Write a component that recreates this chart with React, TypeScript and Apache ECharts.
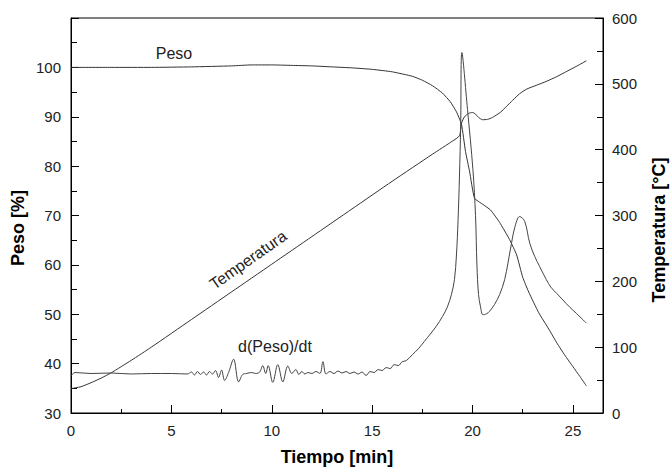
import React, { useEffect, useRef } from "react";
import * as echarts from "echarts";

// Peso [%] vs time [min]
const pesoCurve: [number, number][] = [
  [0, 100], [2, 100], [4, 100], [6, 100.1], [8, 100.3], [9, 100.5], [10, 100.5], [11, 100.4],
  [12, 100.3], [13, 100.1], [14, 99.9], [15, 99.6], [16, 99.1], [17, 98.2], [17.5, 97.4],
  [18, 96.3], [18.5, 94.8], [18.9, 93], [19.2, 91], [19.45, 88.5], [19.65, 83], [19.85, 79],
  [20.1, 73.5], [20.5, 72.3], [20.9, 71.1], [21.35, 68.6], [21.85, 65.1], [22.2, 62],
  [22.5, 57.5], [22.8, 54.5], [23.3, 50.3], [23.8, 47], [24.2, 44.2], [24.6, 41.7],
  [25.0, 39.4], [25.35, 37.4], [25.67, 35.5],
];

// Temperatura [°C] vs time [min]
const tempCurve: [number, number][] = [
  [0, 37], [0.5, 40], [1, 46], [1.5, 53], [2, 61], [3, 80], [4, 100], [6, 142], [8, 184],
  [10, 226], [12, 268], [14, 310], [16, 352], [18, 393], [19, 413], [19.35, 421], [19.45, 440],
  [19.6, 450], [19.8, 455], [20.0, 456.5], [20.15, 454], [20.3, 449], [20.5, 445.5],
  [20.75, 446], [21.0, 449], [21.4, 457], [21.7, 466], [22.0, 475], [22.35, 485], [22.7, 492],
  [23.2, 498], [23.7, 504], [24.2, 511], [24.7, 519], [25.2, 527], [25.67, 535],
];

// d(Peso)/dt (plotted on the Peso scale)
const dtgCurve: [number, number][] = [
  [0, 37.5], [0.2, 38.2], [1, 38.0], [2, 38.1], [3, 37.9], [4, 38.0], [5, 38.0], [5.8, 37.9],
  [6.0, 38.3], [6.15, 37.7], [6.3, 38.4], [6.45, 37.8], [6.6, 38.3], [6.75, 37.7], [6.9, 38.4],
  [7.05, 37.9], [7.2, 38.6], [7.35, 37.2], [7.5, 38.7], [7.65, 36.6], [7.85, 38.2], [8.1, 40.9],
  [8.35, 36.3], [8.55, 37.8], [8.75, 38.0], [9.0, 38.2], [9.2, 38.0], [9.4, 38.3], [9.55, 39.6],
  [9.7, 38.0], [9.82, 39.6], [10.05, 36.2], [10.3, 39.8], [10.55, 36.3], [10.8, 39.5],
  [11.0, 38.0], [11.2, 38.8], [11.35, 37.8], [11.5, 38.4], [11.65, 37.9], [11.8, 38.2],
  [12.0, 38.0], [12.2, 38.4], [12.4, 38.0], [12.55, 40.4], [12.7, 37.9], [12.9, 38.4],
  [13.1, 38.0], [13.3, 38.5], [13.5, 38.1], [13.7, 38.4], [13.9, 38.0], [14.1, 38.3],
  [14.3, 37.9], [14.5, 38.3], [14.7, 37.6], [14.9, 38.4], [15.1, 38.2], [15.3, 38.8],
  [15.5, 38.6], [15.7, 39.2], [15.9, 39.0], [16.1, 39.8], [16.3, 39.6], [16.5, 40.4],
  [16.7, 40.6], [17, 41.8], [17.3, 43.0], [17.6, 44.5], [17.9, 46.0], [18.2, 47.6],
  [18.5, 49.5], [18.75, 51.5], [18.95, 54], [19.1, 57], [19.2, 62], [19.28, 69], [19.35, 78],
  [19.41, 88], [19.47, 103], [19.75, 91.5], [20.02, 79.3], [20.15, 70], [20.22, 60], [20.3, 54],
  [20.4, 51.5], [20.52, 49.9], [20.7, 50.1], [20.85, 50.6], [21.1, 52], [21.35, 54], [21.6, 57],
  [21.9, 63.4], [22.1, 67.5], [22.35, 69.8], [22.6, 68.8], [22.85, 64.4], [23.1, 61.7],
  [23.34, 59.7], [23.68, 57], [23.9, 55.5], [24.2, 54.2], [24.5, 52.9], [24.85, 51.4],
  [25.17, 50.2], [25.45, 49.1], [25.67, 48.2],
];

const FONT = "'Liberation Sans', Arial, sans-serif";
const LINE = "#333";

export default function App() {
  const ref = useRef<HTMLDivElement>(null);
  useEffect(() => {
    if (!ref.current) return;
    const chart = echarts.init(ref.current, undefined, { renderer: "svg" });
    const axisLine = { show: true, onZero: false, lineStyle: { color: "#000", width: 1 } };
    const label = { color: "#222", fontSize: 15, fontFamily: FONT };
    chart.setOption({
      animation: false,
      backgroundColor: "#fff",
      grid: { left: 71, right: 67, top: 18, bottom: 55, show: true, borderColor: "#000", borderWidth: 1, backgroundColor: "transparent" },
      xAxis: [
        {
          type: "value", min: 0, max: 26.5, interval: 5, position: "bottom",
          axisLine,
          axisTick: { inside: true, length: 8, lineStyle: { color: "#000" } },
          axisLabel: { ...label, margin: 10, showMaxLabel: false },
          splitLine: { show: false },
        },
        {
          type: "value", min: 0, max: 26.5, interval: 2.5, position: "bottom",
          axisLine: { show: false },
          axisTick: { inside: true, length: 4, lineStyle: { color: "#000" } },
          axisLabel: { show: false },
          splitLine: { show: false },
        },
      ],
      yAxis: [
        {
          type: "value", min: 30, max: 110, interval: 10, position: "left",
          axisLine,
          axisTick: { inside: true, length: 8, lineStyle: { color: "#000" } },
          minorTick: { show: true, splitNumber: 2, length: 6, lineStyle: { color: "#000" } },
          axisLabel: { ...label, margin: 10, showMaxLabel: false },
          splitLine: { show: false },
        },
        {
          type: "value", min: 0, max: 600, interval: 100, position: "right",
          axisLine,
          axisTick: { inside: true, length: 8, lineStyle: { color: "#000" } },
          minorTick: { show: true, splitNumber: 2, length: 6, lineStyle: { color: "#000" } },
          axisLabel: { ...label, margin: 9 },
          splitLine: { show: false },
        },
      ],
      series: [
        { name: "Peso", type: "line", xAxisIndex: 0, yAxisIndex: 0, data: pesoCurve, showSymbol: false, symbol: "none", smooth: 0.15, lineStyle: { color: LINE, width: 1 } },
        { name: "Temperatura", type: "line", xAxisIndex: 0, yAxisIndex: 1, data: tempCurve, showSymbol: false, symbol: "none", smooth: 0.2, lineStyle: { color: LINE, width: 1 } },
        { name: "d(Peso)/dt", type: "line", xAxisIndex: 0, yAxisIndex: 0, data: dtgCurve, showSymbol: false, symbol: "none", smooth: 0.35, lineStyle: { color: "#444", width: 1 } },
      ],
      graphic: [
        { type: "text", x: 174, y: 53, style: { text: "Peso", fill: "#222", font: `16px ${FONT}`, align: "center", verticalAlign: "middle" } },
        { type: "text", x: 275, y: 346, style: { text: "d(Peso)/dt", fill: "#222", font: `16px ${FONT}`, align: "center", verticalAlign: "middle" } },
        { type: "text", x: 248, y: 260, rotation: (35 * Math.PI) / 180, style: { text: "Temperatura", fill: "#222", font: `16px ${FONT}`, align: "center", verticalAlign: "middle" } },
        { type: "text", x: 18, y: 228, rotation: Math.PI / 2, style: { text: "Peso [%]", fill: "#000", font: `bold 18px ${FONT}`, align: "center", verticalAlign: "middle" } },
        { type: "text", x: 659, y: 230, rotation: Math.PI / 2, style: { text: "Temperatura [°C]", fill: "#000", font: `bold 18px ${FONT}`, align: "center", verticalAlign: "middle" } },
        { type: "text", x: 337, y: 457, style: { text: "Tiempo [min]", fill: "#000", font: `bold 18px ${FONT}`, align: "center", verticalAlign: "middle" } },
      ],
    });
    return () => chart.dispose();
  }, []);
  return <div ref={ref} style={{ position: "fixed", left: 0, top: 0, width: 670, height: 468 }} />;
}
